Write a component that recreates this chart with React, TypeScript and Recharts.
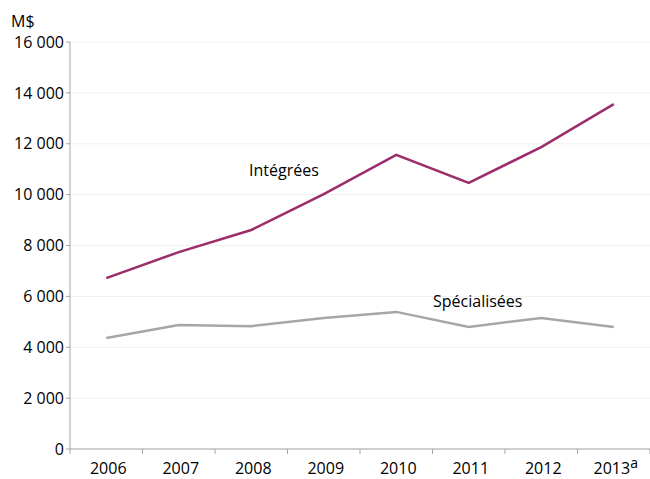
import React from 'react';
import { LineChart, Line, XAxis, YAxis, CartesianGrid, Customized } from 'recharts';

const years = ['2006', '2007', '2008', '2009', '2010', '2011', '2012', '2013'];
const integrees = [6720, 7740, 8610, 10020, 11560, 10460, 11870, 13560];
const specialisees = [4360, 4870, 4830, 5150, 5390, 4800, 5150, 4800];
const yTicks = [0, 2000, 4000, 6000, 8000, 10000, 12000, 14000, 16000];

const data = years.map((year, i) => ({
  year,
  integrees: integrees[i],
  specialisees: specialisees[i],
}));

const W = 650;
const H = 479;
const LEFT = 70;
const RIGHT = 650;
const BOTTOM = 449;
const HALF_BAND = (RIGHT - LEFT) / years.length / 2;
const FONT = '"Open Sans", sans-serif';
const AXIS = '#a6a6a6';

const fmt = (v: number) => String(v).replace(/\B(?=(\d{3})+(?!\d))/g, ' ');

const YearTick = (props: any) => {
  const { x, payload, index } = props;
  const last = index === years.length - 1;
  return (
    <g>
      <line x1={x - HALF_BAND} x2={x - HALF_BAND} y1={BOTTOM} y2={BOTTOM + 5} stroke={AXIS} />
      {last && <line x1={x + HALF_BAND} x2={x + HALF_BAND} y1={BOTTOM} y2={BOTTOM + 5} stroke={AXIS} />}
      <text x={x + 2} y={BOTTOM + 25} textAnchor="middle" fontSize={16} fill="#000" fontFamily={FONT}>
        {payload.value}
        {last && <tspan dy={-6} fontSize={14}>a</tspan>}
      </text>
    </g>
  );
};

const Annotations = () => (
  <g fontFamily={FONT} fontSize={16} fill="#000">
    <text x={11} y={27}>M$</text>
    <text x={249} y={176}>Intégrées</text>
    <text x={433} y={307}>Spécialisées</text>
  </g>
);

export default function App() {
  return (
    <div style={{ position: 'absolute', left: 0, top: 0, background: '#fff' }}>
      <LineChart width={W} height={H} data={data} margin={{ top: 42, right: 0, bottom: 0, left: 8 }}>
        <CartesianGrid vertical={false} stroke="#f0f0f0" />
        <XAxis
          dataKey="year"
          padding={{ left: HALF_BAND, right: HALF_BAND }}
          stroke={AXIS}
          tickLine={false}
          tick={<YearTick />}
          height={30}
          interval={0}
        />
        <YAxis
          width={62}
          domain={[0, 16000]}
          ticks={yTicks}
          tickFormatter={fmt}
          stroke={AXIS}
          tickSize={4}
          tickMargin={2}
          tick={{ fill: '#000', fontSize: 16, fontFamily: FONT }}
        />
        <Line
          dataKey="integrees"
          stroke="#9b2d68"
          strokeWidth={2.5}
          dot={false}
          type="linear"
          isAnimationActive={false}
        />
        <Line
          dataKey="specialisees"
          stroke="#a6a6a6"
          strokeWidth={2.5}
          dot={false}
          type="linear"
          isAnimationActive={false}
        />
        <Customized component={Annotations} />
      </LineChart>
    </div>
  );
}
